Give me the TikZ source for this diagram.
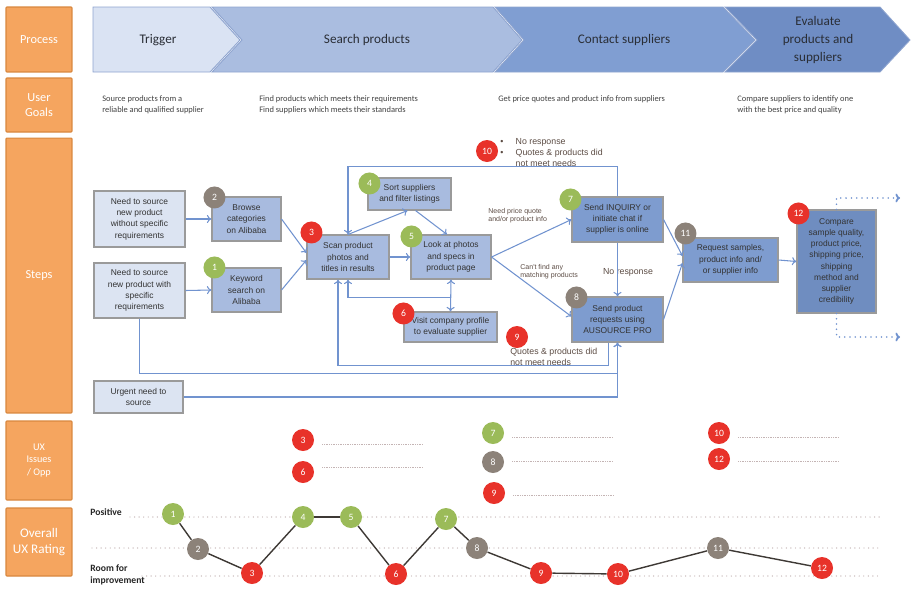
\documentclass[tikz,border=0pt]{standalone}
\usepackage{fontspec}
\setmainfont{Carlito}
\newfontfamily\boxfont{Liberation Sans}
\usetikzlibrary{arrows.meta,calc}

\definecolor{laneorange}{HTML}{F5A55F}
\definecolor{laneedge}{HTML}{D8873E}
\definecolor{triggerblue}{HTML}{DAE3F3}
\definecolor{searchblue}{HTML}{AABDE0}
\definecolor{contactblue}{HTML}{809ED2}
\definecolor{evalblue}{HTML}{6F8DC4}
\definecolor{chevronedge}{HTML}{8EA4CF}
\definecolor{boxlight}{HTML}{DCE4F2}
\definecolor{boxmid}{HTML}{A8BBDF}
\definecolor{boxdark}{HTML}{7E9CCF}
\definecolor{boxdeep}{HTML}{6F8DC0}
\definecolor{boxedge}{HTML}{9A9A9A}
\definecolor{flowblue}{HTML}{7193CF}
\definecolor{okgreen}{HTML}{9BBB59}
\definecolor{midgray}{HTML}{8C8279}
\definecolor{badred}{HTML}{E8322A}
\definecolor{notebrown}{HTML}{5B4B43}
\definecolor{guidedot}{HTML}{C4B4B4}
\definecolor{trendline}{HTML}{3E3935}
\definecolor{headtext}{HTML}{2A2E36}

\begin{document}
\begin{tikzpicture}[x=0.02cm, y=-0.02cm, >={To[length=2.6pt,width=4.6pt]},
    lane/.style={draw=laneedge, fill=laneorange, line width=0.6pt, text=white, align=center,
        minimum width=1.32cm, rounded corners=0.5pt, font=\fontsize{7}{8.5}\selectfont},
    chevron/.style={draw=chevronedge, line width=0.5pt},
    phase/.style={text=headtext, align=center, font=\fontsize{7.5}{10}\selectfont},
    goal/.style={anchor=north west, align=left, inner sep=0pt, text=black!75,
        font=\fontsize{4.8}{6.2}\selectfont},
    stepbox/.style={draw=boxedge, line width=0.6pt, align=center, inner sep=1pt, text=black!80,
        font=\boxfont\fontsize{4.8}{6.4}\selectfont},
    badge/.style={circle, inner sep=0pt, minimum size=0.44cm, text=white,
        font=\fontsize{5.5}{6}\selectfont},
    note/.style={anchor=north west, align=left, inner sep=0pt, text=notebrown,
        font=\boxfont\fontsize{4}{4.8}\selectfont},
    flow/.style={draw=flowblue, line width=0.6pt, ->},
    flowdot/.style={draw=flowblue, line width=1pt, dash pattern=on 0pt off 3pt, line cap=round,
        -{To[length=2.6pt,width=5pt]}},
    guide/.style={draw=guidedot, line width=0.8pt, dash pattern=on 0pt off 2.6pt, line cap=round},
    issueline/.style={draw=guidedot, line width=0.5pt, dash pattern=on 0.5pt off 0.5pt},
    trend/.style={draw=trendline, line width=0.8pt},
    ratinglabel/.style={anchor=west, inner sep=0pt, align=left, text=black!85,
        font=\bfseries\fontsize{5.5}{6.5}\selectfont}]
    \useasboundingbox (0,0) rectangle (911,589);

    % Lanes
    \node[lane, minimum height=1.30cm] (process) at (39,39.5) {Process};
    \node[lane, minimum height=1.08cm] (goals) at (39,105) {User\\Goals};
    \node[lane, minimum height=5.50cm] (steps) at (39,275.5) {Steps};
    \node[lane, minimum height=1.58cm, font=\fontsize{5.8}{7.2}\selectfont] (issues) at (39,460.5) {UX\\Issues\\/ Opp};
    \node[lane, minimum height=1.36cm, font=\fontsize{7.5}{9}\selectfont] (rating) at (39,542) {Overall\\UX Rating};

    % Phases
    \draw[chevron, fill=triggerblue] (93,7) -- (210,7) -- (240,40) -- (210,72) -- (93,72) -- cycle;
    \draw[chevron, fill=searchblue] (212,7) -- (493,7) -- (522,40) -- (493,72) -- (212,72) -- (242,40) -- cycle;
    \draw[chevron, fill=contactblue] (495,7) -- (723,7) -- (755,40) -- (723,72) -- (495,72) -- (524,40) -- cycle;
    \draw[chevron, fill=evalblue] (725,7) -- (880,7) -- (910,40) -- (880,72) -- (725,72) -- (757,40) -- cycle;
    \node[phase] (trigger) at (158,40) {Trigger};
    \node[phase] (search) at (367,40) {Search products};
    \node[phase] (contact) at (624,40) {Contact suppliers};
    \node[phase] (evaluate) at (818,40) {Evaluate\\products and\\suppliers};

    % User goals
    \node[goal] (goal1) at (102,95) {Source products from a\\reliable and qualified supplier};
    \node[goal] (goal2) at (259,95) {Find products which meets their requirements\\Find suppliers which meets their standards};
    \node[goal] (goal3) at (498,95) {Get price quotes and product info from suppliers};
    \node[goal] (goal4) at (737,95) {Compare suppliers to identify one\\with the best price and quality};

    % Steps - entry points
    \node[stepbox, fill=boxlight, minimum width=1.82cm, minimum height=1.12cm] (nospec) at (139.5,219) {Need to source\\new product\\without specific\\requirements};
    \node[stepbox, fill=boxlight, minimum width=1.82cm, minimum height=1.10cm] (withspec) at (139.5,290.5) {Need to source\\new product with\\specific\\requirements};
    \node[stepbox, fill=boxlight, minimum width=1.78cm, minimum height=0.64cm] (urgent) at (138.5,397) {Urgent need to\\source};

    % Steps - search
    \node[stepbox, fill=boxmid, minimum width=1.38cm, minimum height=0.88cm] (browse) at (246.5,219) {Browse\\categories\\on Alibaba};
    \node[stepbox, fill=boxmid, minimum width=1.38cm, minimum height=0.88cm] (keyword) at (246.5,290) {Keyword\\search on\\Alibaba};
    \node[stepbox, fill=boxmid, minimum width=1.64cm, minimum height=0.88cm] (scan) at (348,257) {Scan product\\photos and\\titles in results};
    \node[stepbox, fill=boxmid, minimum width=1.66cm, minimum height=0.64cm] (sort) at (409.5,194) {Sort suppliers\\and filter listings};
    \node[stepbox, fill=boxmid, minimum width=1.60cm, minimum height=0.88cm] (look) at (451,257) {Look at photos\\and specs in\\product page};
    \node[stepbox, fill=boxmid, minimum width=1.86cm, minimum height=0.60cm] (visit) at (450.5,327) {Visit company profile\\to evaluate supplier};

    % Steps - contact and evaluate
    \node[stepbox, fill=boxdark, minimum width=1.82cm, minimum height=0.90cm] (inquiry) at (617.5,219.5) {Send INQUIRY or\\initiate chat if\\supplier is online};
    \node[stepbox, fill=boxdark, minimum width=1.82cm, minimum height=0.90cm] (ausource) at (617.5,319.5) {Send product\\requests using\\AUSOURCE PRO};
    \node[stepbox, fill=boxdark, minimum width=1.90cm, minimum height=0.88cm] (samples) at (730.5,260) {Request samples,\\product info and/\\or supplier info};
    \node[stepbox, fill=boxdeep, minimum width=1.58cm, minimum height=2.06cm] (compare) at (836.5,261.5) {Compare\\sample quality,\\product price,\\shipping price,\\shipping\\method and\\supplier\\credibility};

    % Step badges
    \node[badge, fill=okgreen] (s1) at ([shift={(3,0)}]keyword.north west) {1};
    \node[badge, fill=midgray] (s2) at ([shift={(3,1)}]browse.north west) {2};
    \node[badge, fill=badred] (s3) at ([shift={(5,-2)}]scan.north west) {3};
    \node[badge, fill=okgreen] (s4) at ([shift={(2,6)}]sort.north west) {4};
    \node[badge, fill=okgreen] (s5) at ([shift={(1,2)}]look.north west) {5};
    \node[badge, fill=badred] (s6) at ([shift={(0,2)}]visit.north west) {6};
    \node[badge, fill=okgreen] (s7) at ([shift={(-1,3)}]inquiry.north west) {7};
    \node[badge, fill=midgray] (s8) at ([shift={(5,1)}]ausource.north west) {8};
    \node[badge, fill=badred] (s9) at (517,337) {9};
    \node[badge, fill=badred] (s10) at (487,151) {10};
    \node[badge, fill=midgray] (s11) at ([shift={(3,-4)}]samples.north west) {11};
    \node[badge, fill=badred] (s12) at ([shift={(2,4)}]compare.north west) {12};

    % Notes
    \node[note, font=\boxfont\fontsize{5}{6.2}\selectfont] (note10) at (500,137) {\begin{tabular}{@{}l@{\hspace{7pt}}l@{}}\textbullet & No response\\ \textbullet & Quotes \& products did\\ & not meet needs\end{tabular}};
    \node[note, font=\boxfont\fontsize{5}{6.2}\selectfont] (note9) at (510,348) {Quotes \& products did\\not meet needs};
    \node[note] (quote) at (488,208) {Need price quote\\and/or product info};
    \node[note] (nomatch) at (520,264) {Can't find any\\matching products};
    \node[note, anchor=center, font=\boxfont\fontsize{5}{6}\selectfont] (noresp) at (628,272) {No response};

    % Connectors
    \draw[flow] (nospec.east) -- (browse.west);
    \draw[flow] (withspec.east) -- (keyword.west);
    \draw[flow] (browse.east) -- ([shift={(0,-4)}]scan.west);
    \draw[flow] (keyword.east) -- ([shift={(0,3)}]scan.west);
    \draw[flow] (scan.east) -- (look.west);
    \draw[flow] (scan.north) -- ([shift={(-2,0)}]sort.south);
    \draw[flow] ([shift={(6,0)}]sort.south) -- ([shift={(-4,0)}]look.north);
    \draw[flow] (look.east) -- (inquiry.west);
    \draw[flow] (look.east) -- ([shift={(0,-3)}]ausource.west);
    \draw[flow] (inquiry.south) -- (ausource.north);
    \draw[flow] (inquiry.east) -- ([shift={(0,-4)}]samples.west);
    \draw[flow] (ausource.east) -- ([shift={(0,3)}]samples.west);
    \draw[flow] (samples.east) -- (compare.west);
    \draw[flow, <->] (look.south) -- (visit.north);
    \draw[flow] ($(look.south)!0.55!(visit.north)$) -| (scan.south);
    \draw[flow] ([shift={(-9,0)}]ausource.south) -- ++(0,23) -| ([shift={(-10,0)}]scan.south);
    \draw[flow] (withspec.south) -- ++(0,55) -| (ausource.south);
    \draw[flow] (urgent.east) -| (ausource.south);
    \draw[flow] (inquiry.north) -- ++(0,-30) -| (scan.north);
    \coordinate (outtop) at (900,198);
    \coordinate (outbot) at (900,337);
    \draw[flowdot] (compare.north) |- (outtop);
    \draw[flowdot] (compare.south) |- (outbot);

    % UX issues
    \foreach \n/\px/\py/\ly/\c in {3/303/440/444/badred, 6/303/472/467/badred,
        7/493/433/437/okgreen, 8/493/462/461/midgray, 9/494/493/495/badred,
        10/719/433/437/badred, 12/719/459/461/badred} {
        \node[badge, fill=\c] (i\n) at (\px,\py) {\n};
        \draw[issueline] (\px+19,\ly) -- (\px+120,\ly);
    }

    % Overall UX rating
    \node[ratinglabel] (positive) at (90,512) {Positive};
    \node[ratinglabel] (room) at (90,575) {Room for\\improvement};
    \draw[guide] (130,517) -- (880,517);
    \draw[guide] (92,548) -- (880,548);
    \draw[guide] (142,576) -- (880,576);
    \foreach \n/\px/\py/\c in {1/173/514/okgreen, 2/198/549/midgray, 3/252/573/badred,
        4/303/517/okgreen, 5/351/517/okgreen, 6/396/574/badred, 7/446/519/okgreen,
        8/477/548/midgray, 9/541/573/badred, 10/618/574/badred, 11/718/548/midgray,
        12/822/568/badred}
        \node[badge, fill=\c] (r\n) at (\px,\py) {\n};
    \foreach \a/\b in {1/2, 2/3, 3/4, 4/5, 5/6, 6/7, 7/8, 8/9, 9/10, 10/11, 11/12}
        \draw[trend] (r\a) -- (r\b);
\end{tikzpicture}
\end{document}
